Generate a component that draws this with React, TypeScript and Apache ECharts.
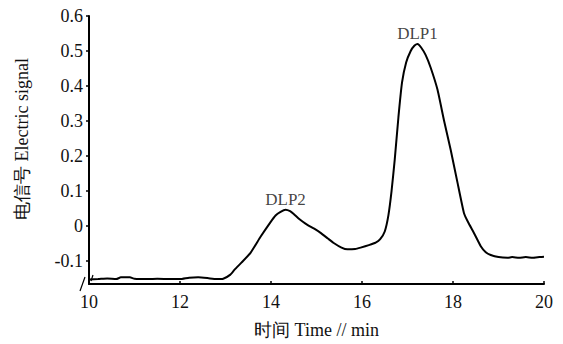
import React, { useEffect, useRef } from "react";
import * as echarts from "echarts";

const times = [
  10.0, 10.2, 10.4, 10.6, 10.7, 10.9, 11.0, 11.3, 11.5, 11.8, 12.0, 12.2, 12.4, 12.6, 12.8, 12.95,
  13.1, 13.2, 13.35, 13.55, 13.77, 13.99, 14.1, 14.21, 14.32, 14.42, 14.5, 14.6, 14.7, 14.8, 14.95,
  15.09, 15.25, 15.37, 15.55, 15.68, 15.85, 15.97, 16.15, 16.3, 16.4, 16.5, 16.58, 16.65, 16.72,
  16.8, 16.88, 16.97, 17.07, 17.15, 17.22, 17.3, 17.4, 17.51, 17.66, 17.8, 17.95, 18.1, 18.24,
  18.33, 18.46, 18.61, 18.72, 18.83, 19.0, 19.2, 19.3, 19.45, 19.6, 19.75, 19.9, 20.0,
];
const signal = [
  -0.153, -0.152, -0.15, -0.152, -0.147, -0.147, -0.151, -0.152, -0.151, -0.152, -0.152, -0.148,
  -0.147, -0.149, -0.152, -0.151, -0.14, -0.125, -0.105, -0.077, -0.031, 0.011, 0.03, 0.04, 0.046,
  0.042, 0.034, 0.022, 0.012, 0.003, -0.008, -0.02, -0.036, -0.048, -0.062, -0.067, -0.066, -0.062,
  -0.055, -0.048, -0.038, -0.016, 0.03, 0.1, 0.19, 0.31, 0.41, 0.467, 0.5, 0.515, 0.52, 0.51, 0.488,
  0.452, 0.389, 0.303, 0.217, 0.123, 0.037, 0.011, -0.02, -0.058, -0.075, -0.083, -0.089, -0.091,
  -0.089, -0.091, -0.089, -0.091, -0.089, -0.088,
];
const peakNames = ["DLP2", "DLP1"];
const peakTimes = [14.32, 17.22];
const peakValues = [0.046, 0.52];
const xTicks = [10, 12, 14, 16, 18, 20];
const yMin = -0.166;
const yMax = 0.6;

const FONT = "Liberation Serif";

export default function App() {
  const ref = useRef<HTMLDivElement>(null);
  useEffect(() => {
    if (!ref.current) return;
    const chart = echarts.init(ref.current, undefined, { renderer: "svg" });
    const labelStyle = { fontFamily: FONT, fontSize: 18, color: "#111" };
    const rich = { s: { fontFamily: FONT, fontSize: 18, color: "#111" } };
    chart.setOption({
      animation: false,
      backgroundColor: "#ffffff",
      textStyle: { fontFamily: FONT },
      grid: { left: 89, right: 19, top: 16, bottom: 60 },
      xAxis: {
        type: "value",
        min: xTicks[0],
        max: xTicks[xTicks.length - 1],
        interval: 2,
        name: "时间 Time // min",
        nameLocation: "middle",
        nameGap: 37,
        nameTextStyle: { fontFamily: FONT, fontSize: 18, color: "#111" },
        axisLine: { show: true, onZero: false, lineStyle: { color: "#000", width: 2 } },
        axisTick: { show: true, inside: true, length: 3, lineStyle: { color: "#000", width: 1.5 } },
        axisLabel: {
          margin: 9,
          ...labelStyle,
          rich,
          formatter: (v: number) => `{s|${v}}`,
        },
        splitLine: { show: false },
      },
      yAxis: {
        type: "value",
        min: yMin,
        max: yMax,
        splitNumber: 7,
        axisLine: { show: true, onZero: false, lineStyle: { color: "#000", width: 2 } },
        axisTick: { show: true, inside: false, length: 3, lineStyle: { color: "#000", width: 1.5 } },
        axisLabel: {
          margin: 6,
          ...labelStyle,
          rich,
          showMinLabel: false,
          formatter: (v: number) => {
            const r = Math.round(v * 10) / 10;
            if (Math.abs(r - v) > 1e-6) return "";
            return `{s|${r === 0 ? "0" : r.toFixed(1)}}`;
          },
        },
        splitLine: { show: false },
      },
      graphic: [
        {
          type: "text",
          x: 22,
          y: 139,
          rotation: Math.PI / 2,
          style: {
            text: "电信号 Electric signal",
            fontFamily: FONT,
            fontSize: 18,
            fill: "#111",
            align: "center",
            verticalAlign: "middle",
          },
        },
        {
          type: "line",
          shape: { x1: 80, y1: 291, x2: 85, y2: 277 },
          style: { stroke: "#000", lineWidth: 1.2 },
        },
        {
          type: "line",
          shape: { x1: 91, y1: 281, x2: 93, y2: 275 },
          style: { stroke: "#000", lineWidth: 1.2 },
        },
      ],
      series: [
        {
          type: "line",
          data: times.map((t, i) => [t, signal[i]]),
          showSymbol: false,
          symbol: "none",
          smooth: 0.15,
          lineStyle: { color: "#000", width: 2 },
          z: 3,
        },
        {
          type: "scatter",
          data: peakTimes.map((t, i) => ({ value: [t, peakValues[i]], name: peakNames[i] })),
          symbolSize: 2,
          itemStyle: { color: "rgba(0,0,0,0)" },
          label: {
            show: true,
            position: "top",
            distance: 1,
            formatter: (p: any) => p.name,
            fontFamily: FONT,
            fontSize: 17,
            color: "#111",
          },
          z: 4,
        },
      ],
    });
    return () => chart.dispose();
  }, []);
  return (
    <div
      ref={ref}
      style={{ position: "fixed", left: 0, top: 0, width: 563, height: 344 }}
    />
  );
}
